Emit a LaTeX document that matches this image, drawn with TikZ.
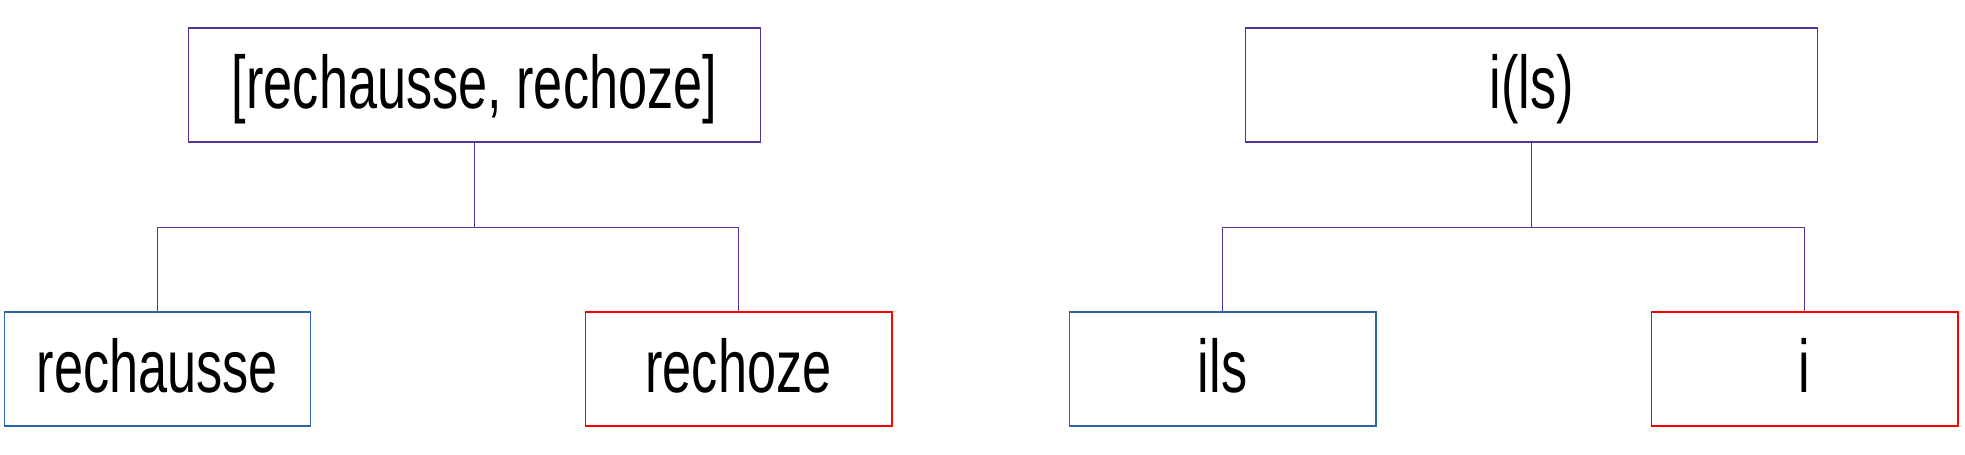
\documentclass[tikz,border=0pt]{standalone}
\usepackage{fontspec}
\newfontfamily\narrowsans{Liberation Sans}[FakeStretch=0.70]
\definecolor{treeviolet}{HTML}{553399}
\definecolor{leafblue}{HTML}{2E64A6}
\definecolor{leafred}{HTML}{FF0000}
\tikzset{box/.style={draw,line width=0.6pt,inner sep=0pt,
        minimum height=2.28cm,text height=35pt,text depth=8.5pt,
        font=\narrowsans\fontsize{42.5}{50}\selectfont},
    rootbox/.style={box,draw=treeviolet,minimum width=11.46cm},
    leafbox/.style={box,draw=#1,minimum width=6.14cm},
    branch/.style={draw=treeviolet,line width=0.6pt}}

\begin{document}
\begin{tikzpicture}[x=0.02cm,y=-0.02cm]
      \useasboundingbox (0,0) rectangle (1965,454);
      % roots
      \node[rootbox] (rootL) at (474.5,85) {[rechausse, rechoze]};
      \node[rootbox] (rootR) at (1531.5,85) {i(ls)};
      % leaves
      \node[leafbox=leafblue] (rechausse) at (157.5,369) {rechausse};
      \node[leafbox=leafred] (rechoze) at (738.5,369) {rechoze};
      \node[leafbox=leafblue] (ils) at (1222.5,369) {ils};
      \node[leafbox=leafred] (i) at (1804.5,369) {i};
      % branches
      \foreach \R/\A/\B in {rootL/rechausse/rechoze,rootR/ils/i}
      {\draw[branch] (\R.south) -- ++(0,85) coordinate (fork-\R);
       \draw[branch] (\A.north) |- (fork-\R) -| (\B.north);}
    \end{tikzpicture}
\end{document}
